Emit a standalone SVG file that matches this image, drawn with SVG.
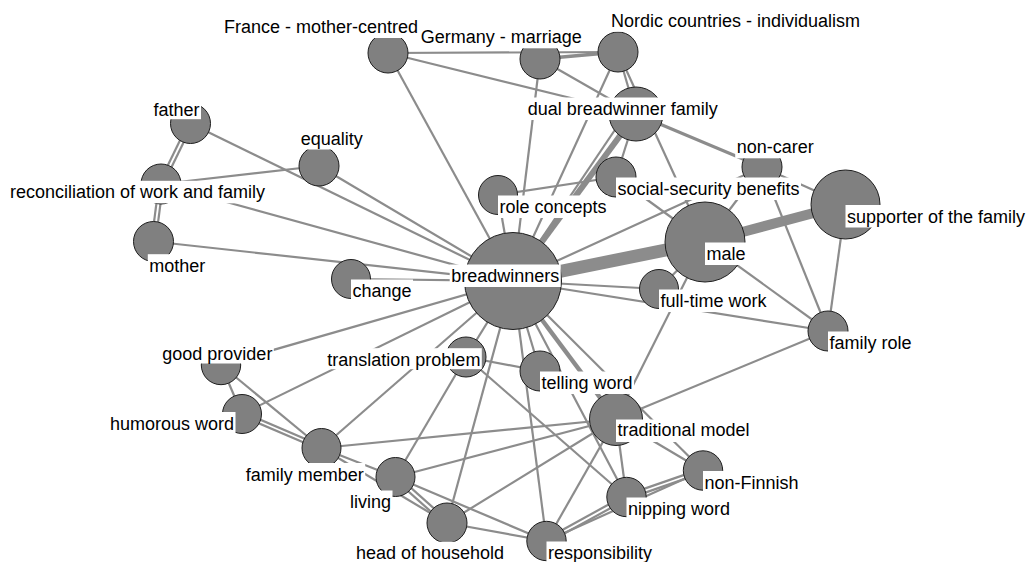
<svg xmlns="http://www.w3.org/2000/svg" width="1032" height="562" viewBox="0 0 1032 562">
  <style>
    .bg { fill: #ffffff; }
    #edges line { stroke: #8c8c8c; stroke-width: 2.2; stroke-linecap: butt; }
    #edges line.w3 { stroke-width: 3; }
    #edges line.w4 { stroke-width: 3.5; }
    #edges line.w5 { stroke-width: 4.5; }
    #edges line.w6 { stroke-width: 6; }
    #edges line.w10 { stroke-width: 10; }
    #edges line.w13 { stroke-width: 13; }
    .node circle { fill: #808080; stroke: #1e1e1e; stroke-width: 1; }
    .node rect { fill: #ffffff; }
    .node text { font-family: "Liberation Sans", Arial, sans-serif; font-size: 18px; fill: #000000; }
  </style>

  <rect class="bg" x="0" y="0" width="1032" height="562"/>

  <!-- ties between concepts -->
  <g id="edges">
    <!-- weighted ties -->
    <line class="w13" x1="513" y1="281" x2="705" y2="242"/>
    <line class="w10" x1="705" y1="242" x2="845.5" y2="204.5"/>
    <line class="w6" x1="636" y1="114" x2="513" y2="281"/>
    <line class="w5" x1="513" y1="281" x2="616" y2="419"/>
    <line class="w4" x1="540" y1="59" x2="618" y2="52"/>
    <line class="w3" x1="636" y1="114" x2="762" y2="167"/>

    <!-- upper part -->
    <line x1="388" y1="53" x2="618" y2="52"/>
    <line x1="388" y1="53" x2="636" y2="114"/>
    <line x1="388" y1="53" x2="513" y2="281"/>
    <line x1="540" y1="59" x2="636" y2="114"/>
    <line x1="540" y1="59" x2="513" y2="281"/>
    <line x1="618" y1="52" x2="636" y2="114"/>
    <line x1="618" y1="52" x2="705" y2="242"/>
    <line x1="618" y1="52" x2="513" y2="281"/>
    <line x1="636" y1="114" x2="616" y2="177"/>
    <line x1="513" y1="281" x2="627" y2="112"/>
    <line x1="498" y1="195" x2="513" y2="281"/>
    <line x1="498" y1="195" x2="616" y2="177"/>
    <line x1="616" y1="177" x2="705" y2="242"/>

    <!-- right part -->
    <line x1="513" y1="281" x2="762" y2="167"/>
    <line x1="705" y1="242" x2="762" y2="167"/>
    <line x1="762" y1="167" x2="828" y2="331"/>
    <line x1="762" y1="167" x2="845.5" y2="204.5"/>
    <line x1="845.5" y1="204.5" x2="828" y2="331"/>
    <line x1="705" y1="242" x2="828" y2="331"/>
    <line x1="705" y1="242" x2="659" y2="289"/>
    <line x1="705" y1="242" x2="616" y2="419"/>
    <line x1="513" y1="281" x2="659" y2="289"/>
    <line x1="513" y1="281" x2="828" y2="331"/>
    <line x1="828" y1="331" x2="616" y2="419"/>

    <!-- left part -->
    <line x1="192.3" y1="124.4" x2="162.8" y2="184.9"/>
    <line x1="188.7" y1="122.6" x2="159.2" y2="183.1"/>
    <line x1="163" y1="184.3" x2="155.5" y2="241.8"/>
    <line x1="159" y1="183.7" x2="151.5" y2="241.2"/>
    <line x1="190.5" y1="123.5" x2="513" y2="281"/>
    <line x1="161" y1="184" x2="319" y2="166"/>
    <line x1="161" y1="184" x2="513" y2="281"/>
    <line x1="319" y1="166" x2="513" y2="281"/>
    <line x1="153.5" y1="241.5" x2="513" y2="281"/>
    <line x1="351" y1="279" x2="513" y2="281"/>

    <!-- lower part -->
    <line x1="221" y1="365" x2="513" y2="281"/>
    <line x1="221" y1="365" x2="321.5" y2="448"/>
    <line x1="221" y1="365" x2="242" y2="414"/>
    <line x1="242" y1="414" x2="513" y2="281"/>
    <line x1="241.2" y1="415.8" x2="320.7" y2="449.8"/>
    <line x1="242.8" y1="412.2" x2="322.3" y2="446.2"/>
    <line x1="321.5" y1="448" x2="513" y2="281"/>
    <line x1="321.5" y1="448" x2="616" y2="419"/>
    <line x1="321.5" y1="448" x2="395.5" y2="477"/>
    <line x1="321.5" y1="448" x2="447" y2="523"/>
    <line x1="394" y1="478.6" x2="445.5" y2="524.6"/>
    <line x1="397" y1="475.4" x2="448.5" y2="521.4"/>
    <line x1="395.5" y1="477" x2="466" y2="357"/>
    <line x1="395.5" y1="477" x2="616" y2="419"/>
    <line x1="395.5" y1="477" x2="546.5" y2="541"/>
    <line x1="447" y1="523" x2="513" y2="281"/>
    <line x1="447" y1="523" x2="616" y2="419"/>
    <line x1="447" y1="523" x2="546.5" y2="541"/>
    <line x1="546.5" y1="541" x2="513" y2="281"/>
    <line x1="546.5" y1="541" x2="616" y2="419"/>
    <line x1="546.5" y1="541" x2="703" y2="470.5"/>
    <line x1="547.5" y1="542.8" x2="627.5" y2="498.8"/>
    <line x1="545.5" y1="539.2" x2="625.5" y2="495.2"/>
    <line x1="627.2" y1="498.9" x2="703.7" y2="472.4"/>
    <line x1="625.8" y1="495.1" x2="702.3" y2="468.6"/>
    <line x1="626.5" y1="497" x2="616" y2="419"/>
    <line x1="626.5" y1="497" x2="513" y2="281"/>
    <line x1="626.5" y1="497" x2="466" y2="357"/>
    <line x1="703" y1="470.5" x2="616" y2="419"/>
    <line x1="703" y1="470.5" x2="513" y2="281"/>
    <line x1="540" y1="371" x2="513" y2="281"/>
    <line x1="540" y1="371" x2="466" y2="357"/>
    <line x1="466" y1="357" x2="513" y2="281"/>
  </g>

  <!-- concept nodes with their labels -->
  <g id="n-france" class="node">
    <circle cx="388" cy="53" r="20"/>
    <rect x="222.5" y="15.5" width="197" height="22.5"/>
    <text x="224" y="33">France - mother-centred</text>
  </g>
  <g id="n-germany" class="node">
    <circle cx="540" cy="59" r="20"/>
    <rect x="419.2" y="25.8" width="164" height="22.5"/>
    <text x="420.7" y="43.3">Germany - marriage</text>
  </g>
  <g id="n-nordic" class="node">
    <circle cx="618" cy="52" r="20"/>
    <rect x="609.5" y="9.2" width="252" height="22.5"/>
    <text x="611" y="26.7">Nordic countries - individualism</text>
  </g>
  <g id="n-dual" class="node">
    <circle cx="636" cy="114" r="27"/>
    <rect x="526.2" y="97.5" width="193" height="22.5"/>
    <text x="527.7" y="115">dual breadwinner family</text>
  </g>
  <g id="n-noncarer" class="node">
    <circle cx="762" cy="167" r="20"/>
    <rect x="735.2" y="135.8" width="80" height="22.5"/>
    <text x="736.7" y="153.3">non-carer</text>
  </g>
  <g id="n-social" class="node">
    <circle cx="616" cy="177" r="20"/>
    <rect x="616" y="177.5" width="185" height="22.5"/>
    <text x="617.5" y="195">social-security benefits</text>
  </g>
  <g id="n-role" class="node">
    <circle cx="498" cy="195" r="19.5"/>
    <rect x="498" y="195.5" width="110" height="22.5"/>
    <text x="499.5" y="213">role concepts</text>
  </g>
  <g id="n-breadwinners" class="node">
    <circle cx="513" cy="281" r="48.5"/>
    <rect x="449.7" y="264.5" width="111" height="22.5"/>
    <text x="505.2" y="282" text-anchor="middle">breadwinners</text>
  </g>
  <g id="n-male" class="node">
    <circle cx="705" cy="242" r="40"/>
    <rect x="705" y="242.5" width="42" height="22.5"/>
    <text x="706.5" y="260">male</text>
  </g>
  <g id="n-supporter" class="node">
    <circle cx="845.5" cy="204.5" r="34.5"/>
    <rect x="845.5" y="205" width="181" height="22.5"/>
    <text x="847" y="222.5">supporter of the family</text>
  </g>
  <g id="n-fulltime" class="node">
    <circle cx="659" cy="289" r="19.5"/>
    <rect x="659" y="289.5" width="109" height="22.5"/>
    <text x="660.5" y="307">full-time work</text>
  </g>
  <g id="n-familyrole" class="node">
    <circle cx="828" cy="331" r="20"/>
    <rect x="828" y="331.5" width="85" height="22.5"/>
    <text x="829.5" y="349">family role</text>
  </g>
  <g id="n-father" class="node">
    <circle cx="190.5" cy="123.5" r="20"/>
    <rect x="152" y="98.2" width="49" height="21"/>
    <text x="153.5" y="115.7">father</text>
  </g>
  <g id="n-reconciliation" class="node">
    <circle cx="161" cy="184" r="20"/>
    <rect x="8.5" y="180.8" width="258" height="22.5"/>
    <text x="10" y="198.3">reconciliation of work and family</text>
  </g>
  <g id="n-mother" class="node">
    <circle cx="153.5" cy="241.5" r="20"/>
    <rect x="147.8" y="254.2" width="59" height="22.5"/>
    <text x="149.3" y="271.7">mother</text>
  </g>
  <g id="n-equality" class="node">
    <circle cx="319" cy="166" r="20"/>
    <rect x="299.2" y="127.5" width="65" height="22"/>
    <text x="300.7" y="145">equality</text>
  </g>
  <g id="n-change" class="node">
    <circle cx="351" cy="279" r="19.5"/>
    <rect x="351" y="279.5" width="62" height="22.5"/>
    <text x="352.5" y="297">change</text>
  </g>
  <g id="n-goodprovider" class="node">
    <circle cx="221" cy="365" r="19.7"/>
    <rect x="160.8" y="342.5" width="113" height="21"/>
    <text x="162.3" y="360">good provider</text>
  </g>
  <g id="n-translation" class="node">
    <circle cx="466" cy="357" r="20"/>
    <rect x="325.8" y="348.2" width="156" height="21"/>
    <text x="327.3" y="365.7">translation problem</text>
  </g>
  <g id="n-humorous" class="node">
    <circle cx="242" cy="414" r="19.5"/>
    <rect x="108.5" y="412" width="127" height="22.5"/>
    <text x="110" y="430">humorous word</text>
  </g>
  <g id="n-familymember" class="node">
    <circle cx="321.5" cy="448" r="19.5"/>
    <rect x="244.2" y="463" width="121" height="22.5"/>
    <text x="245.7" y="481">family member</text>
  </g>
  <g id="n-living" class="node">
    <circle cx="395.5" cy="477" r="19.5"/>
    <rect x="348.5" y="490.5" width="44" height="22.5"/>
    <text x="350" y="508.3">living</text>
  </g>
  <g id="n-head" class="node">
    <circle cx="447" cy="523" r="20"/>
    <rect x="354.5" y="541.8" width="151" height="22"/>
    <text x="356" y="559">head of household</text>
  </g>
  <g id="n-traditional" class="node">
    <circle cx="616" cy="419" r="26.5"/>
    <rect x="616" y="419.5" width="135" height="22.5"/>
    <text x="617.5" y="436">traditional model</text>
  </g>
  <g id="n-telling" class="node">
    <circle cx="540" cy="371" r="20"/>
    <rect x="540" y="371.5" width="94" height="22.5"/>
    <text x="541.5" y="389">telling word</text>
  </g>
  <g id="n-nonfinnish" class="node">
    <circle cx="703" cy="470.5" r="19.7"/>
    <rect x="703" y="471" width="97" height="22.5"/>
    <text x="704.5" y="488.5">non-Finnish</text>
  </g>
  <g id="n-nipping" class="node">
    <circle cx="626.5" cy="497" r="19.7"/>
    <rect x="626.5" y="497.5" width="105" height="22.5"/>
    <text x="628" y="515">nipping word</text>
  </g>
  <g id="n-responsibility" class="node">
    <circle cx="546.5" cy="541" r="19.7"/>
    <rect x="546.5" y="541.5" width="107" height="22.5"/>
    <text x="548" y="559">responsibility</text>
  </g>
</svg>
